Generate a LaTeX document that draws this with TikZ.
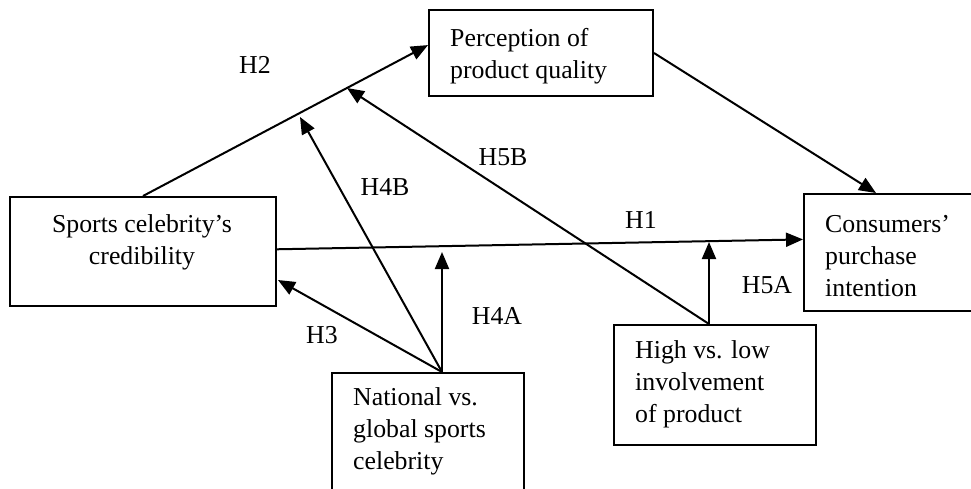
\documentclass[tikz,border=0pt]{standalone}
\usepackage{fontspec}
\setmainfont{Liberation Serif}
\usetikzlibrary{arrows.meta,calc}
\begin{document}
\begin{tikzpicture}[x=1pt,y=-1pt,
  box/.style={draw,line width=2pt,rectangle,inner sep=0pt,anchor=north west},
  txt/.style={font=\fontsize{25.8}{32}\selectfont,inner sep=0pt,align=left,anchor=base west},
  lbl/.style={font=\fontsize{25.8}{32}\selectfont,inner sep=0pt},
  conn/.style={line width=2pt,-{Triangle[length=17pt,width=14pt]}}]
\useasboundingbox (0,0) rectangle (971,488);
% boxes
\node[box,minimum width=224pt,minimum height=86pt] (perc) at (428,9) {};
\node[box,minimum width=266pt,minimum height=109pt] (sports) at (9,196) {};
\node[box,minimum width=210pt,minimum height=117pt] (cons) at (803,193) {};
\node[box,minimum width=192pt,minimum height=130pt] (nat) at (331,372) {};
\node[box,minimum width=202pt,minimum height=120pt] (high) at (613,324) {};
% texts (anchor = baseline of last line)
\node[txt] (percT) at (450,78) {Perception of\\product quality};
\node[txt,align=center,anchor=base] (sportsT) at (142,264) {Sports celebrity’s\\credibility};
\node[txt] (consT) at (825,296) {Consumers’\\purchase\\intention};
\node[txt] (natT) at (353,469) {National vs.\\global sports\\celebrity};
\node[txt] (highT) at (635,422) {High vs. low\\involvement\\of product};
% anchor coordinates
\coordinate (percIn) at ($(perc.north west)!0.41!(perc.south west)$);
\coordinate (consTop) at ($(cons.north west)+(73,0)$);
\coordinate (sportsOut) at ($(sports.north east)!0.48!(sports.south east)$);
\coordinate (consIn) at ($(cons.north west)!0.39!(cons.south west)$);
\coordinate (natTop) at ($(nat.north west)+(111,0)$);
\coordinate (highTop) at ($(high.north west)+(96,0)$);
\coordinate (h3tip) at (278,280);
\coordinate (h4atip) at (442,252);
\coordinate (h4btip) at (300,117);
\coordinate (h5atip) at (709,242);
\coordinate (h5btip) at (347,88);
% connectors
\draw[conn] (sports.north) -- (percIn);
\draw[conn] (perc.east) -- (consTop);
\draw[conn] (sportsOut) -- (consIn);
\draw[conn] (natTop) -- (h3tip);
\draw[conn] (natTop) -- (h4atip);
\draw[conn] (natTop) -- (h4btip);
\draw[conn] (highTop) -- (h5atip);
\draw[conn] (highTop) -- (h5btip);
% labels
\node[lbl] (lH2) at (255,65) {H2};
\node[lbl] (lH1) at (641,220) {H1};
\node[lbl] (lH4B) at (385,187) {H4B};
\node[lbl] (lH5B) at (503,157) {H5B};
\node[lbl] (lH3) at (322,335) {H3};
\node[lbl] (lH4A) at (497,316) {H4A};
\node[lbl] (lH5A) at (767,285) {H5A};
\end{tikzpicture}
\end{document}
